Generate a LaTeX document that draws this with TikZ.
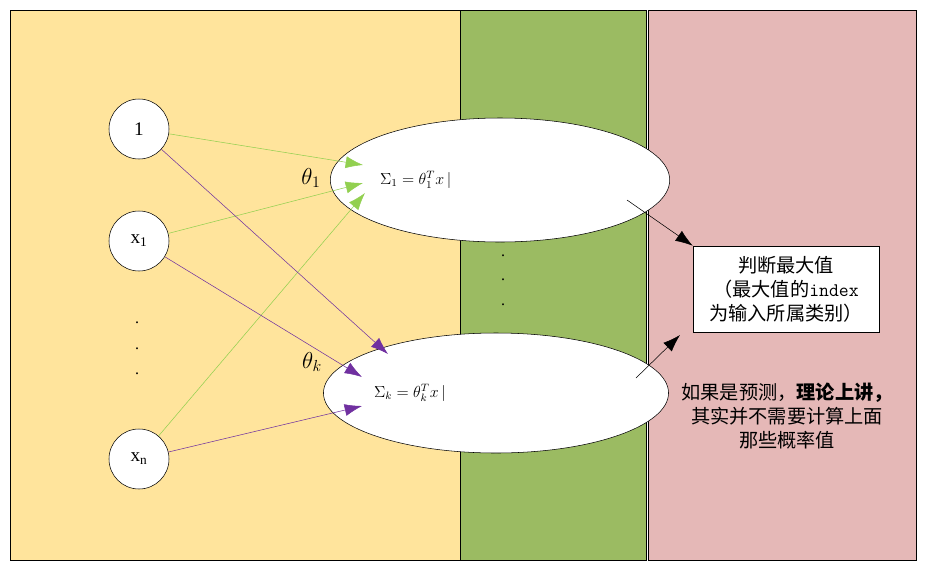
\documentclass[tikz,border=0pt]{standalone}
\usepackage{fontspec}
\setmainfont{Liberation Serif}
\newfontfamily\cjk{Noto Sans CJK SC}
\usetikzlibrary{arrows.meta,shapes.geometric}
\definecolor{yel}{HTML}{FFE49C}
\definecolor{grn}{HTML}{9BBB62}
\definecolor{pnk}{HTML}{E5B8B7}
\definecolor{lg}{HTML}{92D050}
\definecolor{pu}{HTML}{7030A0}
\tikzset{
 inp/.style={draw,circle,fill=white,minimum size=60*0.75pt,inner sep=0pt,font=\Large},
 ell/.style={draw,ellipse,fill=white,inner sep=0pt,font=\large},
 ga/.style={lg,-{Latex[length=13pt,width=9pt]}},
 pa/.style={pu,-{Latex[length=13pt,width=9pt]}},
 ba/.style={black,-{Latex[length=13pt,width=9pt]}},
}
\begin{document}
\begin{tikzpicture}[x=0.75pt,y=-0.75pt]
\useasboundingbox (0,0) rectangle (933,572);
\fill[white] (0,0) rectangle (933,572);
\draw[fill=yel] (10,10) rectangle (460,560);
\draw[fill=grn] (460,10) rectangle (646,560);
\draw[fill=pnk] (648,10) rectangle (916,560);
\node[inp] (n1) at (139,129) {1};
\node[inp] (nx) at (139,241) {x\textsubscript{1}};
\node[inp] (nn) at (139,459) {x\textsubscript{n}};
\foreach \y [count=\i] in {323,349,374} \node[font=\large] (d\i) at (137,\y) {.};
\foreach \y [count=\i] in {256,280,305} \node[font=\large] (m\i) at (503,\y) {.};
\node[ell,minimum width=268*0.75pt,minimum height=124*0.75pt,text width=240*0.75pt] (el1) at (500,180) {$\Sigma_1=\theta_1^T x\,|$};
\node[ell,minimum width=270*0.75pt,minimum height=120*0.75pt,text width=244*0.75pt] (el2) at (496,393) {$\Sigma_k=\theta_k^T x\,|$};
\coordinate (a1) at (363,165); \coordinate (a2) at (363,183); \coordinate (a3) at (365,193);
\coordinate (b1) at (388,354); \coordinate (b2) at (362,377); \coordinate (b3) at (362,406);
\draw[ga] (n1) -- (a1);
\draw[ga] (nx) -- (a2);
\draw[ga] (nn) -- (a3);
\draw[pa] (n1) -- (b1);
\draw[pa] (nx) -- (b2);
\draw[pa] (nn) -- (b3);
\node (t1) at (311,178) {\LARGE$\theta_1$};
\node (tk) at (312,362) {\LARGE$\theta_k$};
\node[draw,fill=white,minimum width=186*0.75pt,minimum height=86*0.75pt,align=center,inner sep=1pt,font=\cjk\Large] (box) at (786,289) {判断最大值\\（最大值的{\ttfamily index}\\为输入所属类别）};
\coordinate (s1) at (627,200); \coordinate (s2) at (636,378); \coordinate (s3) at (680,335);
\draw[ba] (s1) -- (box.north west);
\draw[ba] (s2) -- (s3);
\node[align=center,font=\cjk\Large] (note) at (787,416) {如果是预测，{\bfseries 理论上讲，}\\其实并不需要计算上面\\那些概率值};
\end{tikzpicture}
\end{document}
